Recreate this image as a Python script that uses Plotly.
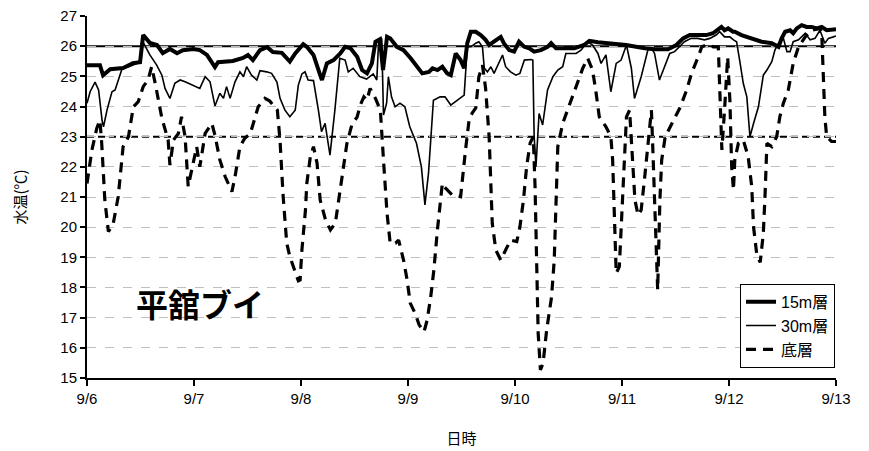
import plotly.graph_objects as go

# ---- data: hours since 9/6 00:00 and water temperature (degC) ----
t15 = [0, 2.9, 3.6, 5.2, 8.1, 10.3, 11.9, 12.6, 14.1, 15.7, 17.0, 18.6, 20.2, 21.5, 23.8, 25.3, 26.9, 28.7, 29.4,
       32.7, 35.0, 36.1, 37.2, 38.8, 40.4, 41.7, 43.7, 45.5, 46.7, 48.5, 49.3, 50.8, 52.3, 52.7, 53.8, 55.3, 56.8,
       57.9, 59.1, 60.6, 61.7, 62.8, 63.9, 64.7, 65.7, 66.4, 67.3, 68.0, 69.5, 71.0, 72.6, 74.5, 75.2, 76.7, 77.5,
       78.6, 79.7, 80.8, 81.6, 82.7, 83.8, 84.6, 85.3, 86.1, 87.2, 88.3, 89.4, 90.2, 91.3, 92.8, 93.5, 94.7, 95.8,
       96.9, 98.1, 99.2, 100.3, 101.8, 103.3, 104.1, 105.2, 107.1, 109.3, 111.5, 112.7, 114.6, 116.8, 119.0, 120.9,
       125.1, 127.3, 130.3, 132.2, 133.7, 135.2, 137.1, 138.9, 140.4, 141.5, 142.3, 143.0, 143.8, 144.9, 145.3,
       146.8, 149.1, 151.3, 153.6, 155.1, 155.8, 156.6, 157.7, 158.4, 159.2, 160.3, 161.4, 162.5, 163.7, 164.8,
       165.9, 167.0, 168.0]
v15 = [25.37, 25.37, 25.04, 25.24, 25.28, 25.44, 25.47, 26.37, 26.11, 26.04, 25.77, 25.91, 25.77, 25.87, 25.91,
       25.87, 25.71, 25.31, 25.47, 25.51, 25.61, 25.71, 25.54, 25.87, 25.97, 25.81, 25.78, 25.49, 25.76, 26.07,
       25.98, 25.71, 25.04, 24.88, 25.43, 25.54, 25.76, 25.98, 25.93, 25.65, 25.21, 25.10, 25.43, 26.15, 26.23,
       25.21, 26.31, 26.26, 25.98, 25.87, 25.60, 25.21, 25.10, 25.15, 25.27, 25.21, 25.32, 25.10, 25.04, 25.76,
       25.54, 25.27, 26.10, 26.48, 26.48, 26.37, 26.21, 26.04, 26.15, 26.31, 26.10, 25.87, 25.82, 26.15, 25.98,
       25.93, 25.82, 25.87, 25.98, 26.10, 25.93, 25.93, 25.93, 26.04, 26.18, 26.13, 26.10, 26.04, 26.04, 25.93,
       25.90, 25.90, 26.04, 26.26, 26.37, 26.37, 26.37, 26.43, 26.53, 26.64, 26.53, 26.59, 26.48, 26.48, 26.37,
       26.26, 26.15, 26.10, 25.98, 26.26, 26.48, 26.53, 26.43, 26.59, 26.70, 26.64, 26.64, 26.59, 26.64, 26.53,
       26.56, 26.56]

t30 = [0, 0.7, 1.8, 2.6, 3.4, 3.7, 4.5, 5.6, 6.3, 7.1, 7.9, 9.2, 10.8, 11.9, 12.3, 14.1, 15.6, 16.8, 17.5, 18.6,
       19.7, 20.9, 22.0, 23.8, 25.3, 26.5, 27.6, 28.7, 29.8, 30.6, 31.3, 32.1, 33.2, 34.3, 35.1, 35.8, 36.9, 38.1,
       38.8, 40.3, 41.4, 42.6, 43.3, 44.4, 45.5, 46.7, 47.4, 48.2, 48.9, 49.6, 50.8, 51.9, 52.6, 53.4, 54.5, 55.6,
       56.7, 57.9, 58.6, 59.7, 61.2, 62.7, 64.2, 65.0, 65.4, 66.1, 66.5, 67.2, 67.6, 68.3, 69.1, 70.2, 71.3, 72.4,
       73.9, 75.0, 75.8, 76.6, 77.3, 77.7, 79.2, 80.3, 81.6, 83.1, 84.6, 85.3, 86.1, 87.2, 87.9, 88.7, 89.1, 89.8,
       90.6, 91.3, 92.4, 93.2, 93.9, 95.0, 96.2, 97.1, 98.1, 99.6, 100.0, 100.3, 100.7, 101.1, 101.4, 102.2, 103.3,
       104.5, 105.6, 106.7, 107.4, 108.6, 109.7, 110.8, 112.3, 113.4, 114.6, 115.3, 116.4, 117.5, 118.7, 119.8,
       121.0, 122.1, 122.8, 124.3, 125.8, 126.6, 127.3, 128.4, 129.6, 130.7, 131.8, 132.9, 134.0, 135.5, 137.0,
       138.5, 139.7, 141.1, 141.9, 143.0, 144.2, 145.0, 145.7, 146.5, 147.2, 148.0, 148.7, 149.5, 150.6, 151.7,
       152.5, 153.6, 154.3, 155.1, 156.2, 157.0, 157.7, 158.4, 159.6, 161.1, 162.2, 163.3, 164.4, 165.5, 166.3,
       167.4, 168.0]
v30 = [24.11, 24.49, 24.81, 24.55, 23.52, 23.33, 23.89, 24.49, 24.55, 24.93, 25.27, 25.31, 25.41, 25.47, 26.21,
       25.71, 25.38, 25.04, 24.60, 24.27, 24.77, 24.88, 24.82, 24.71, 24.60, 24.99, 24.82, 24.02, 24.44, 24.27,
       24.66, 24.27, 24.82, 25.15, 24.99, 25.32, 25.04, 24.88, 25.19, 25.15, 25.10, 24.81, 24.27, 23.88, 23.66,
       23.88, 24.71, 25.08, 25.15, 24.88, 24.86, 23.88, 23.17, 23.44, 22.39, 23.88, 25.60, 25.54, 25.15, 25.27,
       24.99, 24.91, 25.08, 24.88, 26.14, 26.26, 23.72, 24.11, 24.99, 24.32, 23.99, 24.11, 23.99, 23.33, 22.78,
       22.00, 20.74, 21.79, 23.22, 24.21, 24.32, 24.32, 24.05, 24.21, 24.38, 25.98, 25.98, 26.10, 26.15, 25.98,
       25.28, 25.15, 25.32, 25.10, 25.43, 25.71, 25.32, 25.15, 25.04, 25.10, 25.54, 25.56, 25.54, 23.00, 22.00,
       23.00, 23.77, 23.39, 24.55, 24.99, 25.21, 25.32, 25.76, 25.76, 25.76, 25.87, 26.15, 26.04, 25.76, 25.43,
       25.71, 24.49, 25.43, 25.54, 26.04, 25.27, 24.27, 24.99, 25.87, 25.93, 25.76, 24.88, 25.32, 25.76, 25.82,
       25.98, 26.15, 26.26, 26.26, 26.21, 26.26, 26.37, 26.48, 26.31, 26.31, 26.21, 26.15, 25.43, 24.77, 24.32,
       23.00, 23.44, 23.99, 25.04, 25.21, 25.49, 25.87, 26.10, 26.26, 25.82, 25.82, 26.15, 26.21, 26.43, 26.21,
       26.26, 26.53, 26.10, 26.26, 26.31, 26.34]

tb = [0, 1.1, 2.2, 2.9, 3.3, 4.0, 4.8, 5.9, 7.0, 8.1, 9.3, 10.4, 11.5, 12.6, 13.7, 14.5, 15.3, 16.8, 18.2, 18.6,
      19.4, 20.5, 21.2, 22.0, 22.7, 23.5, 24.6, 25.3, 26.5, 28.0, 28.7, 29.8, 31.0, 32.5, 33.2, 34.3, 35.4, 36.6,
      37.7, 38.4, 39.9, 41.0, 42.7, 43.3, 44.0, 44.8, 45.5, 46.3, 47.4, 47.8, 48.2, 49.0, 49.3, 50.1, 50.8, 51.6,
      52.3, 53.5, 54.6, 55.7, 56.5, 57.6, 58.3, 59.4, 60.6, 61.3, 62.1, 62.8, 63.5, 64.7, 65.8, 66.5, 67.3, 68.0,
      69.2, 69.9, 71.0, 71.8, 72.5, 73.6, 74.5, 75.6, 76.3, 77.1, 77.8, 78.6, 79.3, 79.7, 80.1, 81.9, 83.8, 84.2,
      84.9, 85.7, 86.4, 87.2, 87.9, 88.7, 89.4, 90.2, 90.5, 90.9, 91.7, 92.8, 93.9, 95.0, 96.4, 97.1, 97.9, 98.6,
      99.4, 100.1, 100.5, 100.9, 101.2, 101.7, 102.3, 103.1, 104.2, 104.8, 105.2, 105.6, 106.7, 107.8, 108.9,
      110.1, 111.2, 112.3, 113.4, 114.2, 114.9, 116.4, 117.5, 117.9, 118.3, 118.7, 119.4, 120.2, 120.5, 121.0,
      121.7, 122.2, 122.9, 123.6, 124.3, 125.1, 125.8, 126.6, 127.0, 127.4, 127.8, 128.0, 128.5, 128.9, 129.7,
      131.6, 133.1, 134.5, 135.6, 137.1, 137.9, 139.0, 140.5, 141.6, 142.0, 142.4, 143.0, 143.7, 144.2, 144.6,
      145.0, 145.3, 146.1, 147.2, 148.3, 149.1, 149.5, 150.2, 151.0, 151.7, 152.1, 152.5, 153.6, 154.7, 155.4,
      156.2, 157.3, 158.4, 159.6, 161.1, 162.5, 164.4, 164.8, 165.1, 165.5, 165.9, 167.0, 168.0]
vb = [21.45, 22.56, 23.28, 23.55, 22.78, 20.90, 19.85, 20.13, 21.01, 22.67, 23.00, 23.99, 24.16, 24.66, 24.88,
      25.32, 24.77, 23.61, 22.89, 22.06, 22.89, 23.11, 23.66, 23.00, 21.35, 21.89, 22.67, 22.00, 23.11, 23.44,
      23.05, 22.23, 21.67, 21.18, 21.67, 22.67, 22.95, 23.09, 23.62, 23.99, 24.27, 24.18, 23.88, 22.86, 21.01,
      19.47, 19.02, 18.69, 18.22, 18.25, 19.24, 20.57, 21.45, 22.34, 22.67, 22.12, 20.90, 20.24, 19.91, 20.13,
      20.90, 22.00, 22.78, 23.39, 23.66, 24.05, 24.32, 24.21, 24.60, 24.27, 23.88, 22.23, 20.46, 19.47, 19.47,
      19.57, 18.91, 18.25, 17.48, 17.14, 16.76, 16.53, 16.92, 17.69, 18.58, 19.91, 20.79, 21.45, 21.34, 21.07,
      21.01, 21.67, 22.56, 23.55, 23.78, 23.95, 24.99, 25.37, 24.61, 23.00, 21.67, 20.13, 19.24, 18.91, 19.24,
      19.57, 19.52, 20.01, 20.90, 22.00, 22.79, 23.00, 21.34, 18.69, 16.48, 15.27, 15.49, 16.59, 17.69, 18.91,
      20.57, 22.67, 23.44, 23.88, 24.32, 24.77, 25.27, 25.60, 25.21, 24.44, 23.66, 23.33, 23.00, 22.23, 20.01,
      18.47, 18.69, 21.12, 22.56, 23.66, 23.88, 22.56, 20.90, 20.40, 20.57, 21.67, 22.78, 23.88, 22.23, 20.46,
      19.13, 17.92, 20.90, 22.23, 23.00, 23.55, 23.99, 24.55, 25.10, 25.65, 25.98, 26.04, 25.98, 25.98, 24.21,
      22.56, 23.88, 25.64, 24.21, 22.00, 21.23, 22.23, 22.78, 22.89, 22.34, 21.34, 20.02, 19.13, 18.83, 19.80,
      21.12, 22.78, 22.67, 23.00, 23.66, 24.11, 24.55, 25.43, 25.98, 26.31, 26.53, 26.59, 26.43, 25.32, 23.66,
      23.00, 22.84, 22.84]

day_ticks = [0, 24, 48, 72, 96, 120, 144, 168]
day_labels = ["9/6", "9/7", "9/8", "9/9", "9/10", "9/11", "9/12", "9/13"]
temp_ticks = [15, 16, 17, 18, 19, 20, 21, 22, 23, 24, 25, 26, 27]
ref_upper = 26
ref_lower = 23
station = "平舘ブイ"

FONT = "Liberation Sans, Noto Sans CJK JP, sans-serif"
CJK = "Noto Sans CJK JP"

fig = go.Figure()
fig.add_trace(go.Scatter(x=t15, y=v15, mode="lines", name="15m層",
                         line=dict(color="black", width=4)))
fig.add_trace(go.Scatter(x=t30, y=v30, mode="lines", name="30m層",
                         line=dict(color="black", width=1.6)))
fig.add_trace(go.Scatter(x=tb, y=vb, mode="lines", name="底層",
                         line=dict(color="black", width=3.2, dash="10px,7px")))

fig.add_shape(type="line", xref="paper", x0=0, x1=1, yref="y", y0=ref_upper, y1=ref_upper,
              line=dict(color="black", width=2), layer="between")
fig.add_shape(type="line", xref="paper", x0=0, x1=1, yref="y", y0=ref_lower, y1=ref_lower,
              line=dict(color="black", width=2, dash="7px,4px"), layer="between")

fig.add_annotation(x=25.3, y=17.5, text="<b>" + station + "</b>", showarrow=False,
                   font=dict(size=32, color="black", family=CJK))

# page body has an 8px margin, so the figure is sized and placed to compensate
fig.update_layout(
    width=861, height=443,
    margin=dict(l=79, r=33, t=8, b=73, autoexpand=False),
    plot_bgcolor="white", paper_bgcolor="white",
    font=dict(family=FONT, size=14, color="black"),
    showlegend=True,
    legend=dict(x=0.9987, y=0.028, xanchor="right", yanchor="bottom",
                bordercolor="black", borderwidth=1, bgcolor="white",
                font=dict(size=16, family=FONT), tracegroupgap=0),
)
fig.update_xaxes(range=[0, 168], tickvals=day_ticks, ticktext=day_labels, automargin=False,
                 showgrid=False, zeroline=False, showline=True, linecolor="black", linewidth=2,
                 ticks="outside", ticklen=6, tickwidth=2, tickcolor="black",
                 tickfont=dict(size=15), ticklabeloverflow="allow",
                 title=dict(text="日時", font=dict(size=15, family=CJK), standoff=27))
fig.update_yaxes(range=[14.998, 27.002], tickvals=temp_ticks, automargin=False,
                 showgrid=True, gridcolor="#bfbfbf", griddash="dash", gridwidth=1,
                 zeroline=False, showline=True, linecolor="black", linewidth=2,
                 ticks="outside", ticklen=5, tickwidth=1.5, tickcolor="black",
                 tickfont=dict(size=15), ticklabeloverflow="allow",
                 title=dict(text="水温(℃)", font=dict(size=15, family=CJK), standoff=30))

fig.write_html("out.html")
